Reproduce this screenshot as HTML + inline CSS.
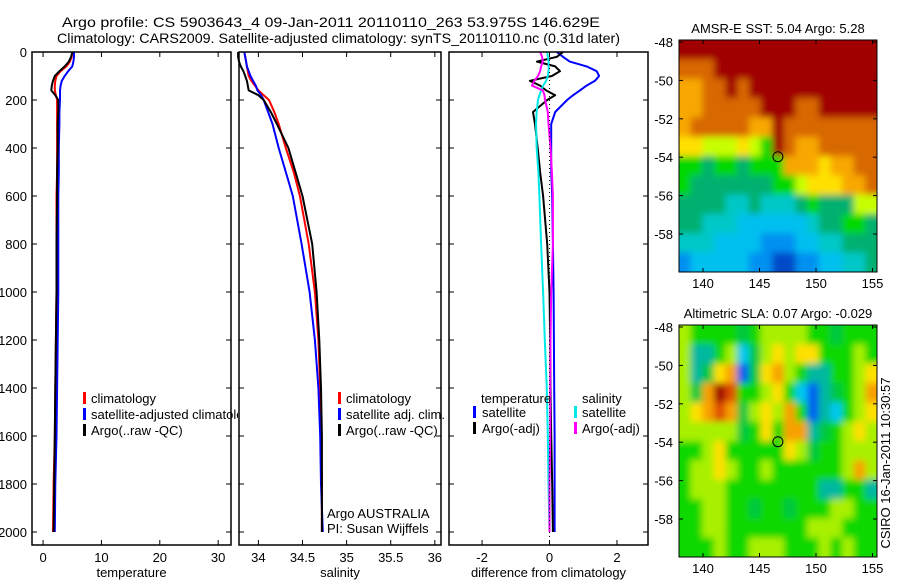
<!DOCTYPE html>
<html><head><meta charset="utf-8">
<style>
html,body{margin:0;padding:0;background:#fff;}
svg{display:block;font-family:"Liberation Sans",Arial,sans-serif;}
</style></head>
<body>
<svg id="fig" width="900" height="580" viewBox="0 0 900 580" xmlns="http://www.w3.org/2000/svg">
<defs>
<filter id="soft" x="-5%" y="-5%" width="110%" height="110%"><feGaussianBlur stdDeviation="3.5"/></filter>
<clipPath id="clipSst"><rect x="679" y="40" width="198" height="232"/></clipPath>
<clipPath id="clipSla"><rect x="679" y="325" width="198" height="232"/></clipPath>
<clipPath id="clipP1"><rect x="32" y="40" width="206" height="540"/></clipPath>
</defs>
<rect width="900" height="580" fill="#fff"/>
<text x="62" y="27" font-size="14" textLength="538" lengthAdjust="spacingAndGlyphs">Argo profile: CS 5903643_4 09-Jan-2011 20110110_263 53.975S 146.629E</text>
<text x="57" y="43" font-size="14" textLength="563" lengthAdjust="spacingAndGlyphs">Climatology: CARS2009. Satellite-adjusted climatology: synTS_20110110.nc (0.31d later)</text>
<g id="plots"></g>
<text transform="translate(890,463) rotate(-90)" font-size="13" text-anchor="middle">CSIRO 16-Jan-2011 10:30:57</text>
</svg>
<script>
// ---- profile data ----
const depths = [0,20,40,60,80,100,120,140,160,180,200,250,300,400,500,600,800,1000,1200,1400,1600,1800,2000];
const tempClim = [5.0,4.9,4.6,4.0,3.0,2.3,2.1,2.0,2.0,2.2,2.4,2.4,2.4,2.4,2.4,2.3,2.3,2.3,2.2,2.1,2.0,1.8,1.7];
const tempSat  = [5.3,5.3,5.2,5.0,4.3,3.7,3.2,3.0,2.9,2.9,2.9,2.8,2.8,2.7,2.7,2.6,2.6,2.6,2.5,2.4,2.3,2.1,2.0];
const tempArgo = [5.0,4.8,4.4,3.7,2.8,2.0,1.7,1.5,1.4,2.1,2.6,2.6,2.5,2.5,2.4,2.4,2.3,2.3,2.2,2.1,2.0,1.9,1.8];
const salClim  = [33.84,33.85,33.86,33.87,33.88,33.89,33.92,33.96,34.0,34.06,34.12,34.18,34.23,34.31,34.40,34.47,34.57,34.64,34.68,34.70,34.71,34.72,34.72];
const salSat   = [33.84,33.85,33.86,33.87,33.89,33.91,33.94,33.97,33.99,34.03,34.06,34.11,34.16,34.23,34.31,34.39,34.49,34.58,34.64,34.68,34.70,34.71,34.73];
const salArgo  = [33.77,33.77,33.78,33.80,33.83,33.85,33.87,33.88,33.89,34.0,34.06,34.14,34.21,34.34,34.42,34.50,34.61,34.66,34.69,34.71,34.72,34.72,34.72];
const diffTSat  = [0.22,0.4,0.6,1.1,1.4,1.47,1.35,1.1,0.9,0.7,0.52,0.17,0.05,0.05,0.05,0.08,0.1,0.12,0.13,0.14,0.15,0.15,0.15];
const diffTArgo = [0.4,0.22,-0.37,0.17,0.31,0.07,-0.58,-0.28,-0.1,0.17,-0.07,-0.49,-0.43,-0.35,-0.28,-0.19,-0.07,0.0,0.02,0.03,0.05,0.08,0.1];
const diffSSat  = [-0.07,-0.05,-0.03,-0.02,-0.03,-0.05,-0.1,-0.19,-0.25,-0.3,-0.34,-0.38,-0.4,-0.38,-0.33,-0.3,-0.25,-0.19,-0.14,-0.08,-0.05,-0.03,0.0];
const diffSArgo = [-0.28,-0.22,-0.2,-0.25,-0.28,-0.34,-0.45,-0.52,-0.2,-0.15,-0.13,-0.05,-0.03,0.03,0.07,0.1,0.1,0.05,0.03,0.02,0.02,0.0,0.0];
const depthTicks = [0,200,400,600,800,1000,1200,1400,1600,1800,2000];
const tempTicks = [0,10,20,30];
const salTicks = [34,34.5,35,35.5,36];
const diffTicks = [-2,0,2];
// ---- map data (rows lat -48..-59, cols lon 138..155) ----
const mapLonTicks = [140,145,150,155];
const mapLatTicks = [-48,-50,-52,-54,-56,-58];
const sstGrid = [
[10,10,10,10,10,10,10,10,10,10,10,10,10,10,10,10,10],
[9,9,9,10,10,10,10,10,10,10,10,10,10,10,10,10,10],
[8,8,9,9,10,9,10,10,10,10,10,10,10,10,10,10,10],
[8,8,9,9,9,9,9,10,10,10,9,9,10,10,10,10,10],
[8,9,9,9,9,9,8,8,10,9,9,9,9,9,9,9,9],
[7,7,6,6,6,7,6,5,10,9,8,8,9,9,9,9,9],
[5,5,4,5,5,4,5,5,5,8,8,8,7,8,8,9,9],
[5,4,4,4,4,4,4,4,5,5,6,7,7,7,8,8,9],
[4,4,4,4,3,3,4,3,3,3,4,5,4,4,4,6,6],
[4,4,3,3,3,2,2,2,2,2,2,3,4,4,5,5,4],
[3,3,3,2,2,2,2,1,1,1,2,2,3,3,4,4,4],
[1,2,2,2,2,2,1,1,0,0,1,1,2,2,3,3,4]];
const slaGrid = [
[6,5,5,5,5,4,5,6,6,6,6,5,5,4,5,5,5],
[6,3,3,5,6,2,4,6,7,6,7,7,5,5,5,6,5],
[6,3,4,7,8,1,4,7,8,6,5,3,3,5,5,6,7],
[6,4,8,10,9,5,5,6,7,5,2,1,3,4,5,6,8],
[6,7,8,9,8,4,6,7,6,8,5,1,3,2,5,6,7],
[6,6,6,6,6,4,5,7,5,8,8,3,4,5,6,7,6],
[5,5,6,7,5,5,5,5,5,7,6,4,5,5,6,6,6],
[5,6,6,7,6,5,5,6,5,5,5,5,5,5,6,8,6],
[5,6,6,6,5,5,5,5,5,5,5,5,3,3,5,5,3],
[5,5,6,6,5,5,4,5,5,4,5,5,5,6,6,5,5],
[5,5,6,6,5,5,5,5,5,5,5,6,6,6,5,5,5],
[5,5,5,6,5,5,6,6,6,5,5,5,6,5,6,5,5]];
const sstColors = ['#0048c8','#0090f0','#00c0f0','#00c8c8','#00b070','#00d800','#c8ff00','#ffe000','#f8a800','#d86800','#a00000'];
const slaColors = ['#0020a0','#0060f0','#00c8f0','#00b8a0','#00c840','#10d800','#a8f000','#ffe000','#f8a000','#e05000','#a00000'];
const argoLon = 146.629, argoLat = -53.975;

const NS='http://www.w3.org/2000/svg';
const root=document.getElementById('plots');
function mk(tag,attrs,parent){const e=document.createElementNS(NS,tag);for(const k in attrs)e.setAttribute(k,attrs[k]);(parent||root).appendChild(e);return e;}
function txt(s,x,y,anchor,size,parent){const t=mk('text',{x:x,y:y,'font-size':size||13,'text-anchor':anchor||'start'},parent);t.textContent=s;return t;}

const Y0=52, Y1=545, yScale=d=>Y0+d*0.24;

function panel(name,left,right,xmin,xmax,xticks,xlabel,series,showDepth){
  const g=mk('g',{});
  
  
  const xs=v=>left+(v-xmin)/(xmax-xmin)*(right-left);
  series.forEach(s=>{
    let d='';
    s.vals.forEach((v,i)=>{d+=(i?'L':'M')+xs(v).toFixed(1)+','+yScale(depths[i]).toFixed(1);});
    const p=mk('path',{d:d,fill:'none',stroke:s.color,'stroke-width':2,'stroke-linejoin':'round'},g);
    
    
  });
  const fr=mk('rect',{x:left,y:Y0,width:right-left,height:Y1-Y0,fill:'none',stroke:'#000','stroke-width':1.5},g);
  
  
  xticks.forEach(t=>{
    const x=xs(t);
    mk('line',{x1:x,x2:x,y1:Y1,y2:Y1-5,stroke:'#000'},g);
    mk('line',{x1:x,x2:x,y1:Y0,y2:Y0+5,stroke:'#000'},g);
    const l=txt(String(t),x,562,'middle',13,g);
    
    
  });
  depthTicks.forEach(t=>{
    const y=yScale(t);
    mk('line',{x1:left,x2:left+5,y1:y,y2:y,stroke:'#000'},g);
    mk('line',{x1:right,x2:right-5,y1:y,y2:y,stroke:'#000'},g);
    if(showDepth){
      const l=txt(String(t),27,y+5,'end',13,g);
      
      
    }
  });
  const xl=txt(xlabel,(left+right)/2,577,'middle',13,g);
  
  
  return {g,xs};
}

const p1=panel('temperature',32,231,-1.9,32.2,tempTicks,'temperature',[
 {name:'temp-climatology-line',color:'#ff0000',vals:tempClim},
 {name:'temp-satellite-line',color:'#0000ff',vals:tempSat},
 {name:'temp-argo-line',color:'#000000',vals:tempArgo}],true);
const p2=panel('salinity',239,441,33.78,36.07,salTicks,'salinity',[
 {name:'sal-climatology-line',color:'#ff0000',vals:salClim},
 {name:'sal-satellite-line',color:'#0000ff',vals:salSat},
 {name:'sal-argo-line',color:'#000000',vals:salArgo}],false);
const p3=panel('difference',449,648,-2.98,2.92,diffTicks,'difference from climatology',[
 {name:'diff-temp-satellite-line',color:'#0000ff',vals:diffTSat},
 {name:'diff-temp-argo-line',color:'#000000',vals:diffTArgo},
 {name:'diff-sal-satellite-line',color:'#00e8e8',vals:diffSSat},
 {name:'diff-sal-argo-line',color:'#ff00ff',vals:diffSArgo}],false);
const zl=mk('line',{x1:p3.xs(0),x2:p3.xs(0),y1:Y0,y2:Y1-8,stroke:'#000','stroke-dasharray':'1,3'},p3.g);



function legend(items,parent,prefix){
  items.forEach(it=>{
    if(it.color){
      const b=mk('rect',{x:it.bx,y:it.y-11,width:3,height:12,fill:it.color},parent);
      
      
    }
    const t=txt(it.label,it.tx,it.y,'start',13,parent);
    
    
  });
}
const leg1=mk('g',{'clip-path':'url(#clipP1)'},p1.g);
legend([{label:'climatology',color:'#ff0000',bx:83,tx:91,y:403},
 {label:'satellite-adjusted climatology',color:'#0000ff',bx:83,tx:91,y:419},
 {label:'Argo(..raw -QC)',color:'#000000',bx:83,tx:91,y:435}],leg1,'temp-legend');
legend([{label:'climatology',color:'#ff0000',bx:338,tx:346,y:403},
 {label:'satellite adj. clim.',color:'#0000ff',bx:338,tx:346,y:419},
 {label:'Argo(..raw -QC)',color:'#000000',bx:338,tx:346,y:435}],p2.g,'sal-legend');
legend([{label:'Argo AUSTRALIA',tx:327,y:518},{label:'PI: Susan Wijffels',tx:327,y:533}],p2.g,'float-info');
legend([{label:'temperature',tx:481,y:403},{label:'satellite',color:'#0000ff',bx:473,tx:482,y:417},
 {label:'Argo(-adj)',color:'#000000',bx:473,tx:482,y:433},
 {label:'salinity',tx:582,y:403},{label:'satellite',color:'#00e8e8',bx:574,tx:582,y:417},
 {label:'Argo(-adj)',color:'#ff00ff',bx:574,tx:582,y:433}],p3.g,'diff-legend');

// ---- maps ----
function drawMap(name,title,grid,colors,top,clipId){
  const L=679,R=877,H=232,B=top+H;
  const g=mk('g',{});
  
  
  const lonS=v=>703+(v-140)*11.3;
  const latS=v=>top+2+(-48-v)*19.2;
  const rows=grid.length, cols=grid[0].length, cw=(R-L)/cols, ch=H/rows;
  const clipG=mk('g',{'clip-path':'url(#'+clipId+')'},g);
  const cells=mk('g',{filter:'url(#soft)'},clipG);
  grid.forEach((row,r)=>row.forEach((v,c)=>{
    const x0=L+c*cw-(c===0?10:0), x1=L+(c+1)*cw+(c===cols-1?10:0);
    const y0=top+r*ch-(r===0?10:0), y1=top+(r+1)*ch+(r===rows-1?10:0);
    const cell=mk('rect',{x:x0.toFixed(2),y:y0.toFixed(2),width:(x1-x0+0.6).toFixed(2),height:(y1-y0+0.6).toFixed(2),fill:colors[v]},cells);
    
    
  }));
  const fr=mk('rect',{x:L,y:top,width:R-L,height:H,fill:'none',stroke:'#000'},g);
  
  
  mapLonTicks.forEach(t=>{const x=lonS(t);
    mk('line',{x1:x,x2:x,y1:B,y2:B-4,stroke:'#000'},g);mk('line',{x1:x,x2:x,y1:top,y2:top+4,stroke:'#000'},g);
    const l=txt(String(t),x,B+16,'middle',13,g);
    
    });
  mapLatTicks.forEach(t=>{const y=latS(t);
    mk('line',{x1:L,x2:L+4,y1:y,y2:y,stroke:'#000'},g);mk('line',{x1:R,x2:R-4,y1:y,y2:y,stroke:'#000'},g);
    const l=txt(String(t),673,y+5,'end',13,g);
    
    });
  const c=mk('circle',{cx:lonS(argoLon),cy:latS(argoLat),r:5,fill:'none',stroke:'#000'},g);
  
  
  const t=txt(title,(L+R)/2,top-7,'middle',13,g);
  
  
}
drawMap('sst','AMSR-E SST: 5.04 Argo: 5.28',sstGrid,sstColors,40,'clipSst');
drawMap('sla','Altimetric SLA: 0.07 Argo: -0.029',slaGrid,slaColors,325,'clipSla');
</script>
</body></html>
